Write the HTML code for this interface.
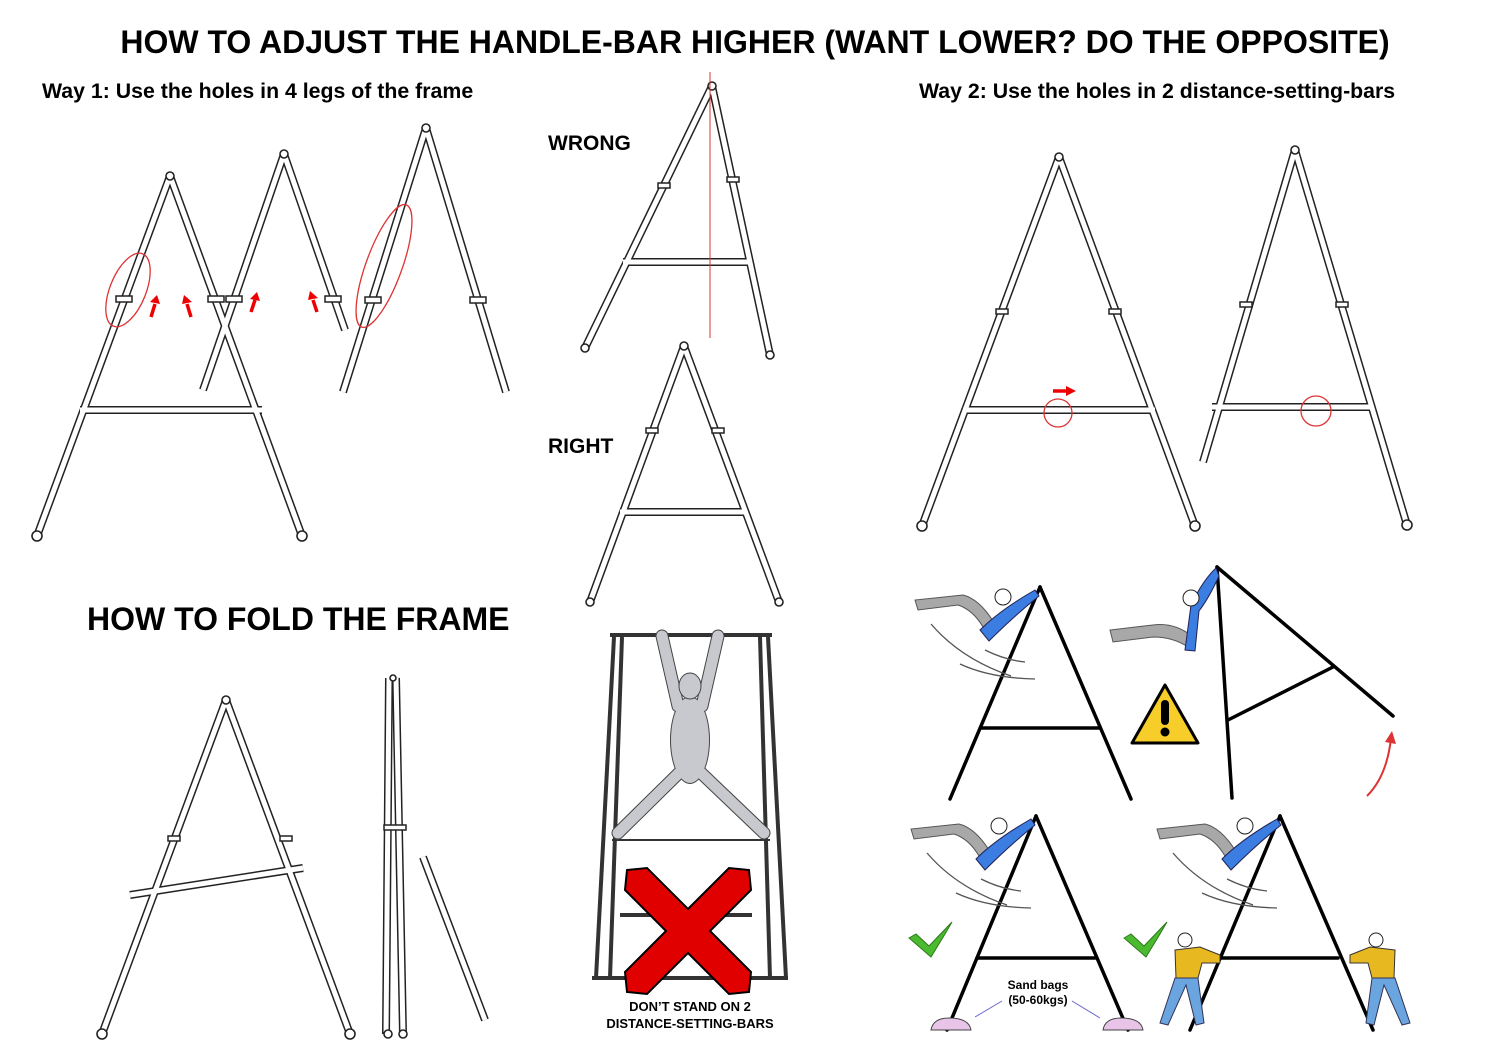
<!DOCTYPE html>
<html><head><meta charset="utf-8"><style>
html,body{margin:0;padding:0;background:#fff}
svg{display:block}
text{font-family:"Liberation Sans",Arial,sans-serif;font-weight:bold;fill:#000}
.o{stroke:#222;stroke-width:8;fill:none;stroke-linecap:butt}
.i{stroke:#fff;stroke-width:5;fill:none}
.k{stroke:#000;stroke-width:3.5;fill:none;stroke-linecap:round}
.r{stroke:#d33;fill:none;stroke-width:1.3}
.c{fill:#fff;stroke:#222;stroke-width:1.6}
.sw{stroke:#555;stroke-width:1.3;fill:none}
.go{stroke:#444;stroke-width:13;stroke-linecap:round;fill:none}
.gi{stroke:#c8c9cf;stroke-width:11;stroke-linecap:round;fill:none}
</style></head><body>
<svg width="1500" height="1061" viewBox="0 0 1500 1061" xmlns="http://www.w3.org/2000/svg">
<defs>
<g id="t1">
 <line x1="170" y1="176" x2="37" y2="536"/><line x1="170" y1="176" x2="302" y2="536"/>
 <line x1="80" y1="410" x2="262" y2="410"/>
 <line x1="284" y1="154" x2="203" y2="390"/><line x1="284" y1="154" x2="345" y2="330"/>
 <line x1="426" y1="128" x2="343" y2="392"/><line x1="426" y1="128" x2="506" y2="392"/>
 <line x1="712" y1="86" x2="585" y2="348"/><line x1="712" y1="86" x2="770" y2="355"/>
 <line x1="623" y1="262" x2="752" y2="262"/>
 <line x1="684" y1="346" x2="590" y2="602"/><line x1="684" y1="346" x2="779" y2="602"/>
 <line x1="620" y1="512" x2="747" y2="512"/>
 <line x1="1059" y1="157" x2="922" y2="526"/><line x1="1059" y1="157" x2="1195" y2="526"/>
 <line x1="963" y1="410" x2="1155" y2="410"/>
 <line x1="1295" y1="150" x2="1203" y2="462"/><line x1="1295" y1="150" x2="1407" y2="525"/>
 <line x1="1212" y1="407" x2="1373" y2="407"/>
 <line x1="226" y1="700" x2="102" y2="1034"/><line x1="226" y1="700" x2="350" y2="1034"/>
 <line x1="130" y1="895" x2="303" y2="868"/>
 <line x1="389" y1="678" x2="386" y2="1034"/><line x1="396" y1="678" x2="403" y2="1034"/>
 <line x1="423" y1="857" x2="485" y2="1020"/>
</g>
</defs>
<text x="755" y="53" font-size="32" text-anchor="middle">HOW TO ADJUST THE HANDLE-BAR HIGHER (WANT LOWER? DO THE OPPOSITE)</text>
<text x="42" y="98" font-size="21.3">Way 1: Use the holes in 4 legs of the frame</text>
<text x="919" y="98" font-size="21.3">Way 2: Use the holes in 2 distance-setting-bars</text>
<text x="548" y="150" font-size="21">WRONG</text>
<text x="548" y="453" font-size="21">RIGHT</text>
<text x="87" y="630" font-size="32">HOW TO FOLD THE FRAME</text>

<use href="#t1" class="o"/>
<use href="#t1" class="i"/>
<g class="c">
<circle cx="170" cy="176" r="4"/><circle cx="37" cy="536" r="5"/><circle cx="302" cy="536" r="5"/>
<circle cx="284" cy="154" r="4"/><circle cx="426" cy="128" r="4"/>
<circle cx="712" cy="86" r="4"/><circle cx="585" cy="348" r="4"/><circle cx="770" cy="355" r="4"/>
<circle cx="684" cy="346" r="4"/><circle cx="590" cy="602" r="4"/><circle cx="779" cy="602" r="4"/>
<circle cx="1059" cy="157" r="4"/><circle cx="922" cy="526" r="5"/><circle cx="1195" cy="526" r="5"/>
<circle cx="1295" cy="150" r="4"/><circle cx="1407" cy="525" r="5"/>
<circle cx="226" cy="700" r="4"/><circle cx="102" cy="1034" r="5"/><circle cx="350" cy="1034" r="5"/>
<circle cx="388" cy="1034" r="4"/><circle cx="403" cy="1034" r="4"/><circle cx="393" cy="678" r="3"/>
</g>
<g fill="#fff" stroke="#222" stroke-width="1.5">
<rect x="116" y="296" width="16" height="6"/><rect x="208" y="296" width="16" height="6"/>
<rect x="226" y="296" width="16" height="6"/><rect x="325" y="296" width="16" height="6"/>
<rect x="365" y="297" width="16" height="6"/><rect x="470" y="297" width="16" height="6"/>
<rect x="658" y="183" width="12" height="5"/><rect x="727" y="177" width="12" height="5"/>
<rect x="646" y="428" width="12" height="5"/><rect x="712" y="428" width="12" height="5"/>
<rect x="996" y="309" width="12" height="5"/><rect x="1109" y="309" width="12" height="5"/>
<rect x="1240" y="302" width="12" height="5"/><rect x="1336" y="302" width="12" height="5"/>
<rect x="168" y="836" width="12" height="5"/><rect x="280" y="836" width="12" height="5"/>
<rect x="384" y="825" width="22" height="5"/>
</g>
<line x1="710" y1="72" x2="710" y2="338" stroke="#d33" stroke-width="1"/>
<ellipse cx="128" cy="290" rx="18" ry="39" transform="rotate(22 128 290)" class="r"/>
<ellipse cx="384" cy="266" rx="18" ry="65" transform="rotate(20 384 266)" class="r"/>
<circle cx="1058" cy="413" r="14" class="r"/><circle cx="1316" cy="411" r="15" class="r"/>
<g stroke="#e00" stroke-width="3.5" fill="#e00">
<line x1="151" y1="317" x2="155" y2="304"/><polygon points="150,302 160,304 157,295" stroke="none"/>
<line x1="191" y1="317" x2="187" y2="304"/><polygon points="182,304 192,302 184,295" stroke="none"/>
<line x1="251" y1="312" x2="255" y2="300"/><polygon points="250,299 260,301 257,292" stroke="none"/>
<line x1="317" y1="312" x2="313" y2="300"/><polygon points="308,300 318,298 310,291" stroke="none"/>
<line x1="1053" y1="391" x2="1067" y2="391"/><polygon points="1066,386 1076,391 1066,396" stroke="none"/>
</g>

<!-- pull-up frame -->
<g stroke="#333" stroke-width="4" fill="none">
<line x1="610" y1="635" x2="772" y2="635"/>
<line x1="614" y1="637" x2="596" y2="978"/><line x1="622" y1="637" x2="610" y2="978"/>
<line x1="768" y1="637" x2="786" y2="978"/><line x1="760" y1="637" x2="770" y2="978"/>
<line x1="592" y1="978" x2="788" y2="978"/>
<line x1="620" y1="915" x2="752" y2="915"/>
<line x1="612" y1="840" x2="770" y2="840" stroke-width="2"/>
</g>
<g>
<path class="go" d="M662,636 L678,706 M718,636 L702,706 M682,770 L618,833 M698,770 L764,833"/>
<ellipse cx="690" cy="740" rx="20" ry="44" fill="#444"/>
<path class="gi" d="M662,636 L678,706 M718,636 L702,706 M682,770 L618,833 M698,770 L764,833"/>
<ellipse cx="690" cy="740" rx="19" ry="43" fill="#c8c9cf"/>
<ellipse cx="690" cy="686" rx="11" ry="13" fill="#c8c9cf" stroke="#444"/>
</g>
<path d="M627,870 l20,-2 l41,41 l41,-41 l20,2 l2,20 l-41,41 l41,41 l-2,20 l-20,2 l-41,-41 l-41,41 l-20,-2 l-2,-20 l41,-41 l-41,-41 z" fill="#e10000" stroke="#000" stroke-width="2"/>
<text x="690" y="1011" font-size="13" text-anchor="middle">DON’T STAND ON 2</text>
<text x="690" y="1028" font-size="13" text-anchor="middle">DISTANCE-SETTING-BARS</text>

<g class="k">
<line x1="1040" y1="587" x2="950" y2="799"/><line x1="1040" y1="587" x2="1131" y2="799"/><line x1="981" y1="728" x2="1100" y2="728"/>
<line x1="1217" y1="567" x2="1232" y2="798"/><line x1="1217" y1="567" x2="1393" y2="716"/><line x1="1228" y1="720" x2="1333" y2="667"/>
<line x1="1036" y1="816" x2="947" y2="1030"/><line x1="1036" y1="816" x2="1128" y2="1030"/><line x1="977" y1="958" x2="1095" y2="958"/>
<line x1="1280" y1="816" x2="1190" y2="1030"/><line x1="1280" y1="816" x2="1373" y2="1030"/><line x1="1222" y1="958" x2="1338" y2="958"/>
</g>
<path d="M1367,796 q20,-20 24,-58" stroke="#d33" stroke-width="2" fill="none"/>
<polygon points="1385,742 1392,731 1396,744" fill="#d33"/>
<polygon points="1165,685 1198,743 1132,743" fill="#f7cd2a" stroke="#000" stroke-width="3" stroke-linejoin="round"/>
<rect x="1161" y="700" width="8" height="25" rx="4" fill="#000"/><circle cx="1165" cy="732" r="4.5" fill="#000"/>
<g id="sw1">
<path d="M915,600 l3,10 l40,-5 q15,5 25,22 l10,-6 q-14,-22 -30,-26 z" fill="#a8a8a8" stroke="#555"/>
<path d="M980,630 q20,-20 55,-40 l4,6 q-25,20 -50,45 z" fill="#3b7de0" stroke="#225"/>
<circle cx="1003" cy="597" r="8" fill="#fff" stroke="#222"/>
<path d="M931,624 q30,35 80,52" class="sw"/><path d="M985,650 q20,10 40,12" class="sw"/><path d="M960,664 q30,14 75,15" class="sw"/>
</g>
<use href="#sw1" transform="translate(-4,229)"/>
<use href="#sw1" transform="translate(242,229)"/>
<path d="M1110,630 l3,12 l40,-5 q20,0 35,10 l5,-10 q-18,-15 -40,-12 z" fill="#a8a8a8" stroke="#555"/>
<path d="M1185,650 l6,-45 q12,-25 25,-37 l3,8 q-10,22 -20,35 l-4,40 z" fill="#3b7de0" stroke="#225"/>
<circle cx="1191" cy="598" r="8" fill="#fff" stroke="#222"/>
<polygon points="909,938 916,934 929,946 952,922 945,934 931,957" fill="#4cba30" stroke="#2a7a18"/>
<polygon points="1124,938 1131,934 1144,946 1167,922 1160,934 1146,957" fill="#4cba30" stroke="#2a7a18"/>
<path d="M931,1030 q2,-12 18,-12 q20,0 22,12 z" fill="#e8c5e8" stroke="#444"/>
<path d="M1103,1030 q2,-12 18,-12 q20,0 22,12 z" fill="#e8c5e8" stroke="#444"/>
<text x="1038" y="989" font-size="12" text-anchor="middle">Sand bags</text>
<text x="1038" y="1004" font-size="12" text-anchor="middle">(50-60kgs)</text>
<line x1="1002" y1="1001" x2="975" y2="1017" stroke="#66c" stroke-width="1"/>
<line x1="1072" y1="1001" x2="1100" y2="1018" stroke="#66c" stroke-width="1"/>
<g>
<path d="M1175,950 l25,-3 l20,8 l0,8 l-18,0 l-4,15 l-22,0 z" fill="#e8b820" stroke="#333"/>
<path d="M1175,978 l-15,45 l8,2 l18,-40 l10,40 l8,-2 l-6,-45 z" fill="#6aa5e0" stroke="#335"/>
<circle cx="1185" cy="940" r="7" fill="#fff" stroke="#222"/>
<path d="M1395,950 l-25,-3 l-20,8 l0,8 l18,0 l4,15 l22,0 z" fill="#e8b820" stroke="#333"/>
<path d="M1395,978 l15,45 l-8,2 l-18,-40 l-10,40 l-8,-2 l6,-45 z" fill="#6aa5e0" stroke="#335"/>
<circle cx="1376" cy="940" r="7" fill="#fff" stroke="#222"/>
</g>
</svg>
</body></html>
